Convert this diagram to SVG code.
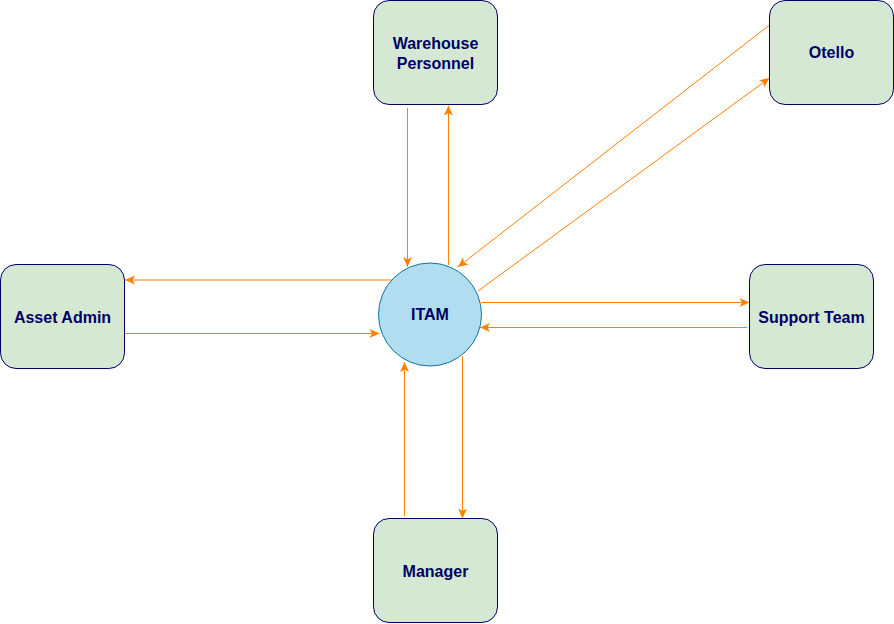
<svg xmlns="http://www.w3.org/2000/svg" width="894" height="624" viewBox="0 0 894 624">
<style>
.box{fill:#d5e8d4;stroke:#000066;stroke-width:1}
.lbl{font-family:"Liberation Sans",Arial,Helvetica,sans-serif;font-weight:bold;font-size:16px;fill:#000066;text-anchor:middle}
.edge{stroke:#ff8000;stroke-width:1;fill:none;marker-end:url(#arr)}
</style>
<defs>
<marker id="arr" viewBox="0 0 10 10" refX="10" refY="5" markerWidth="10" markerHeight="10" markerUnits="userSpaceOnUse" orient="auto">
<path d="M0,0.5 L10,5 L0,9.5 L2.5,5 Z" fill="#ff8000"/>
</marker>
</defs>
<rect width="894" height="624" fill="#ffffff"/>
<g id="connectors">
<path class="edge" d="M407.5,108 L407.5,267"/>
<path class="edge" d="M448.5,265 L448.5,105.5"/>
<path class="edge" d="M392,280 L125,280"/>
<path class="edge" d="M125,333.5 L379.5,333.5"/>
<path class="edge" d="M481.5,302.5 L749.5,302.5"/>
<path class="edge" d="M747,327.5 L480,327.5"/>
<path class="edge" d="M404.5,516 L404.5,362"/>
<path class="edge" d="M462.5,356 L462.5,518.5"/>
<path class="edge" d="M769.5,25 L458,267"/>
<path class="edge" d="M478,291 L769.5,78"/>
</g>
<g id="warehouse">
<rect class="box" x="373.5" y="0.5" width="124" height="104" rx="15.6"/>
<text class="lbl" x="435.5" y="49">Warehouse</text>
<text class="lbl" x="435.5" y="68.5">Personnel</text>
</g>
<g id="otello">
<rect class="box" x="769.5" y="0.5" width="124" height="104" rx="15.6"/>
<text class="lbl" x="831.5" y="58">Otello</text>
</g>
<g id="asset-admin">
<rect class="box" x="0.5" y="264.5" width="124" height="104" rx="15.6"/>
<text class="lbl" x="62.5" y="322.5">Asset Admin</text>
</g>
<g id="support-team">
<rect class="box" x="749.5" y="264.5" width="124" height="104" rx="15.6"/>
<text class="lbl" x="811.5" y="323">Support Team</text>
</g>
<g id="manager">
<rect class="box" x="373.5" y="518.5" width="124" height="104" rx="15.6"/>
<text class="lbl" x="435.5" y="576.5">Manager</text>
</g>
<g id="itam">
<circle cx="430" cy="314.5" r="51.5" fill="#b1ddf0" stroke="#10739e" stroke-width="1"/>
<text class="lbl" x="430" y="320">ITAM</text>
</g>
</svg>
